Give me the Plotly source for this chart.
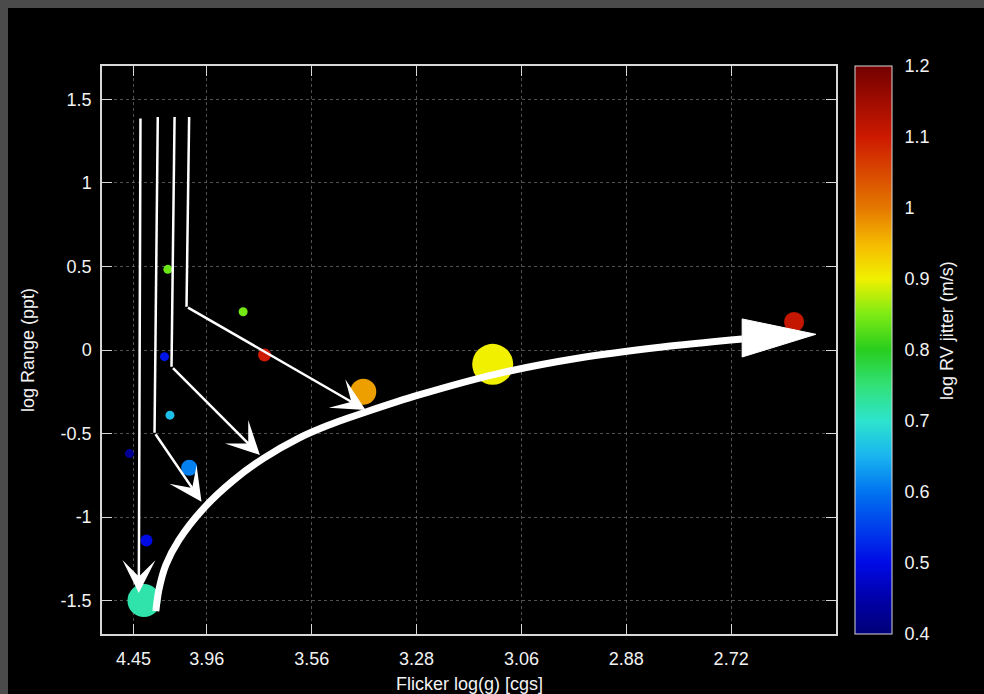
import plotly.graph_objects as go

# ---------------- data ----------------
# x axis: flicker amplitude F8 (ppt); ticks labelled with the equivalent log(g)
flicker_ticks = [0.015, 0.05, 0.10, 0.15, 0.20, 0.25, 0.30]
logg_labels = ["4.45", "3.96", "3.56", "3.28", "3.06", "2.88", "2.72"]

range_ticks = [-1.5, -1.0, -0.5, 0.0, 0.5, 1.0, 1.5]
range_labels = ["-1.5", "-1", "-0.5", "0", "0.5", "1", "1.5"]

jitter_ticks = [0.4, 0.5, 0.6, 0.7, 0.8, 0.9, 1.0, 1.1, 1.2]
jitter_labels = ["0.4", "0.5", "0.6", "0.7", "0.8", "0.9", "1", "1.1", "1.2"]

# stars
star_flicker = [0.0200, 0.0212, 0.0131, 0.0416, 0.0324, 0.0298,
                0.0314, 0.0673, 0.0775, 0.1246, 0.1863, 0.3300]
star_log_range = [-1.50, -1.14, -0.62, -0.705, -0.39, -0.04,
                  0.483, 0.229, -0.03, -0.25, -0.086, 0.168]
star_log_jitter = [0.72, 0.50, 0.43, 0.61, 0.66, 0.51,
                   0.84, 0.845, 1.10, 0.97, 0.90, 1.11]
star_size = [33, 12, 9, 16, 9, 9, 9, 9, 13, 26, 41, 20]

# evolutionary track (big curved arrow)
track_flicker = [0.02567, 0.02710, 0.03044, 0.03664, 0.04857, 0.06288, 0.07719,
                 0.09389, 0.10821, 0.12586, 0.15115, 0.18788, 0.22748, 0.26708, 0.30525]
track_log_range = [-1.563, -1.437, -1.287, -1.138, -0.946, -0.778, -0.647,
                   -0.527, -0.449, -0.371, -0.269, -0.144, -0.048, 0.018, 0.066]
track_head_flicker = [0.30525, 0.34041, 0.30525]
track_head_log_range = [0.186, 0.094, -0.042]

# thin guide arrows: (top, bend, tip) in data coordinates
guide_top_flicker = [0.01835, 0.0266, 0.0346, 0.04155]
guide_top_range = [1.395, 1.395, 1.395, 1.395]
guide_bend_flicker = [None, 0.02505, 0.03315, 0.0403]
guide_bend_range = [None, -0.495, -0.10, 0.259]
guide_tip_flicker = [0.01755, 0.04745, 0.0753, 0.1257]
guide_tip_range = [-1.455, -0.908, -0.629, -0.359]

# ---------------- styling ----------------
FONT = "Liberation Sans, Arial, Helvetica, sans-serif"
TXT = "#f2f2f2"
FRAME = "#d8d8d8"
GRID = "rgba(125,125,125,0.65)"

colorscale = [
    [0.0, "rgb(0,0,120)"],
    [0.0625, "rgb(0,0,170)"],
    [0.125, "rgb(0,10,230)"],
    [0.25, "rgb(0,115,240)"],
    [0.3125, "rgb(25,180,240)"],
    [0.375, "rgb(45,228,205)"],
    [0.4375, "rgb(50,225,120)"],
    [0.5, "rgb(40,205,30)"],
    [0.5625, "rgb(125,235,20)"],
    [0.625, "rgb(240,240,0)"],
    [0.6875, "rgb(245,185,0)"],
    [0.75, "rgb(228,120,0)"],
    [0.875, "rgb(205,25,0)"],
    [1.0, "rgb(115,0,0)"],
]

CB_X0 = (855 - 102) / 734
CB_X1 = (892 - 102) / 734

fig = go.Figure()

fig.add_trace(go.Scatter(
    x=star_flicker, y=star_log_range, mode="markers",
    marker=dict(
        size=star_size, color=star_log_jitter, colorscale=colorscale,
        cmin=jitter_ticks[0], cmax=jitter_ticks[-1], line=dict(width=0), opacity=1,
        colorbar=dict(
            x=CB_X0, xanchor="left", xpad=0,
            y=0.5, yanchor="middle", len=1, lenmode="fraction", ypad=0,
            thickness=37, thicknessmode="pixels",
            outlinecolor=FRAME, outlinewidth=1,
            tickvals=jitter_ticks, ticktext=jitter_labels,
            ticks="outside", ticklen=9, tickwidth=1, tickcolor="rgba(0,0,0,0)",
            tickfont=dict(family=FONT, size=18, color=TXT),
            title=dict(text=""),
        ),
    ),
    hoverinfo="skip", showlegend=False,
))

fig.add_trace(go.Scatter(
    x=track_flicker, y=track_log_range, mode="lines",
    line=dict(color="white", width=7, shape="spline", smoothing=0.8),
    hoverinfo="skip", showlegend=False,
))

shapes = [
    # black canvas over grey window frame
    dict(type="rect", xref="paper", yref="paper",
         x0=(8 - 102) / 734, x1=(1000 - 102) / 734,
         y0=(634 - 710) / 568, y1=(634 - 8) / 568,
         fillcolor="black", line=dict(width=0), layer="below"),
    # big arrow head
    dict(type="path", xref="x", yref="y",
         path="M {},{} L {},{} L {},{} Z".format(
             track_head_flicker[0], track_head_log_range[0],
             track_head_flicker[1], track_head_log_range[1],
             track_head_flicker[2], track_head_log_range[2]),
         fillcolor="white", line=dict(color="white", width=1), layer="above"),
]

# small inside tick dashes on both edges of the colour bar
cmin, cmax = jitter_ticks[0], jitter_ticks[-1]
for v in jitter_ticks[1:-1]:
    yp = (v - cmin) / (cmax - cmin)
    for xa, xb in [(CB_X0, CB_X0 + 6 / 734), (CB_X1 - 6 / 734, CB_X1)]:
        shapes.append(dict(type="line", xref="paper", yref="paper",
                           x0=xa, x1=xb, y0=yp, y1=yp,
                           line=dict(color="rgba(235,235,235,0.85)", width=1),
                           layer="above"))

annotations = []
for i in range(len(guide_top_flicker)):
    if guide_bend_flicker[i] is None:
        tail_x, tail_y = guide_top_flicker[i], guide_top_range[i]
    else:
        tail_x, tail_y = guide_bend_flicker[i], guide_bend_range[i]
        shapes.append(dict(
            type="line", xref="x", yref="y",
            x0=guide_top_flicker[i], y0=guide_top_range[i],
            x1=tail_x, y1=tail_y,
            line=dict(color="white", width=2.5), layer="above"))
    annotations.append(dict(
        x=guide_tip_flicker[i], y=guide_tip_range[i], xref="x", yref="y",
        ax=tail_x, ay=tail_y, axref="x", ayref="y",
        text="", showarrow=True, arrowhead=3, arrowsize=2.2,
        arrowwidth=2.5, arrowcolor="white", standoff=0))

# axis titles
annotations += [
    dict(text="Flicker log(g) [cgs]", xref="paper", yref="paper",
         x=0.5, y=(634 - 684) / 568, showarrow=False,
         xanchor="center", yanchor="middle",
         font=dict(family=FONT, size=18, color=TXT)),
    dict(text="log Range (ppt)", xref="paper", yref="paper",
         x=(28 - 102) / 734, y=(634 - 350) / 568, showarrow=False,
         textangle=-90, xanchor="center", yanchor="middle",
         font=dict(family=FONT, size=18, color=TXT)),
    dict(text="log RV jitter (m/s)", xref="paper", yref="paper",
         x=(947 - 102) / 734, y=(634 - 331) / 568, showarrow=False,
         textangle=-90, xanchor="center", yanchor="middle",
         font=dict(family=FONT, size=18, color=TXT)),
]

axis_common = dict(
    showline=True, linecolor=FRAME, linewidth=1.5, mirror="allticks",
    ticks="inside", ticklen=10, tickwidth=1.2, tickcolor=FRAME,
    showgrid=True, gridcolor=GRID, griddash="dot", gridwidth=1,
    zeroline=False,
    tickfont=dict(family=FONT, size=18, color=TXT),
)

fig.update_layout(
    width=984, height=694,
    margin=dict(l=102, r=148, t=66, b=60, autoexpand=False),
    paper_bgcolor="#4b4b4b", plot_bgcolor="black",
    xaxis=dict(range=[0, 0.35], tickvals=flicker_ticks, ticktext=logg_labels,
               ticklabelstandoff=8, **axis_common),
    yaxis=dict(range=[-1.7, 1.7], tickvals=range_ticks, ticktext=range_labels,
               ticklabelstandoff=5, **axis_common),
    shapes=shapes, annotations=annotations,
    showlegend=False,
)

fig.write_html(
    "out.html",
    config={"displayModeBar": False},
    post_script="document.body.style.margin='0';"
                "document.body.style.overflow='hidden';"
                "document.body.style.background='#4b4b4b';",
)
